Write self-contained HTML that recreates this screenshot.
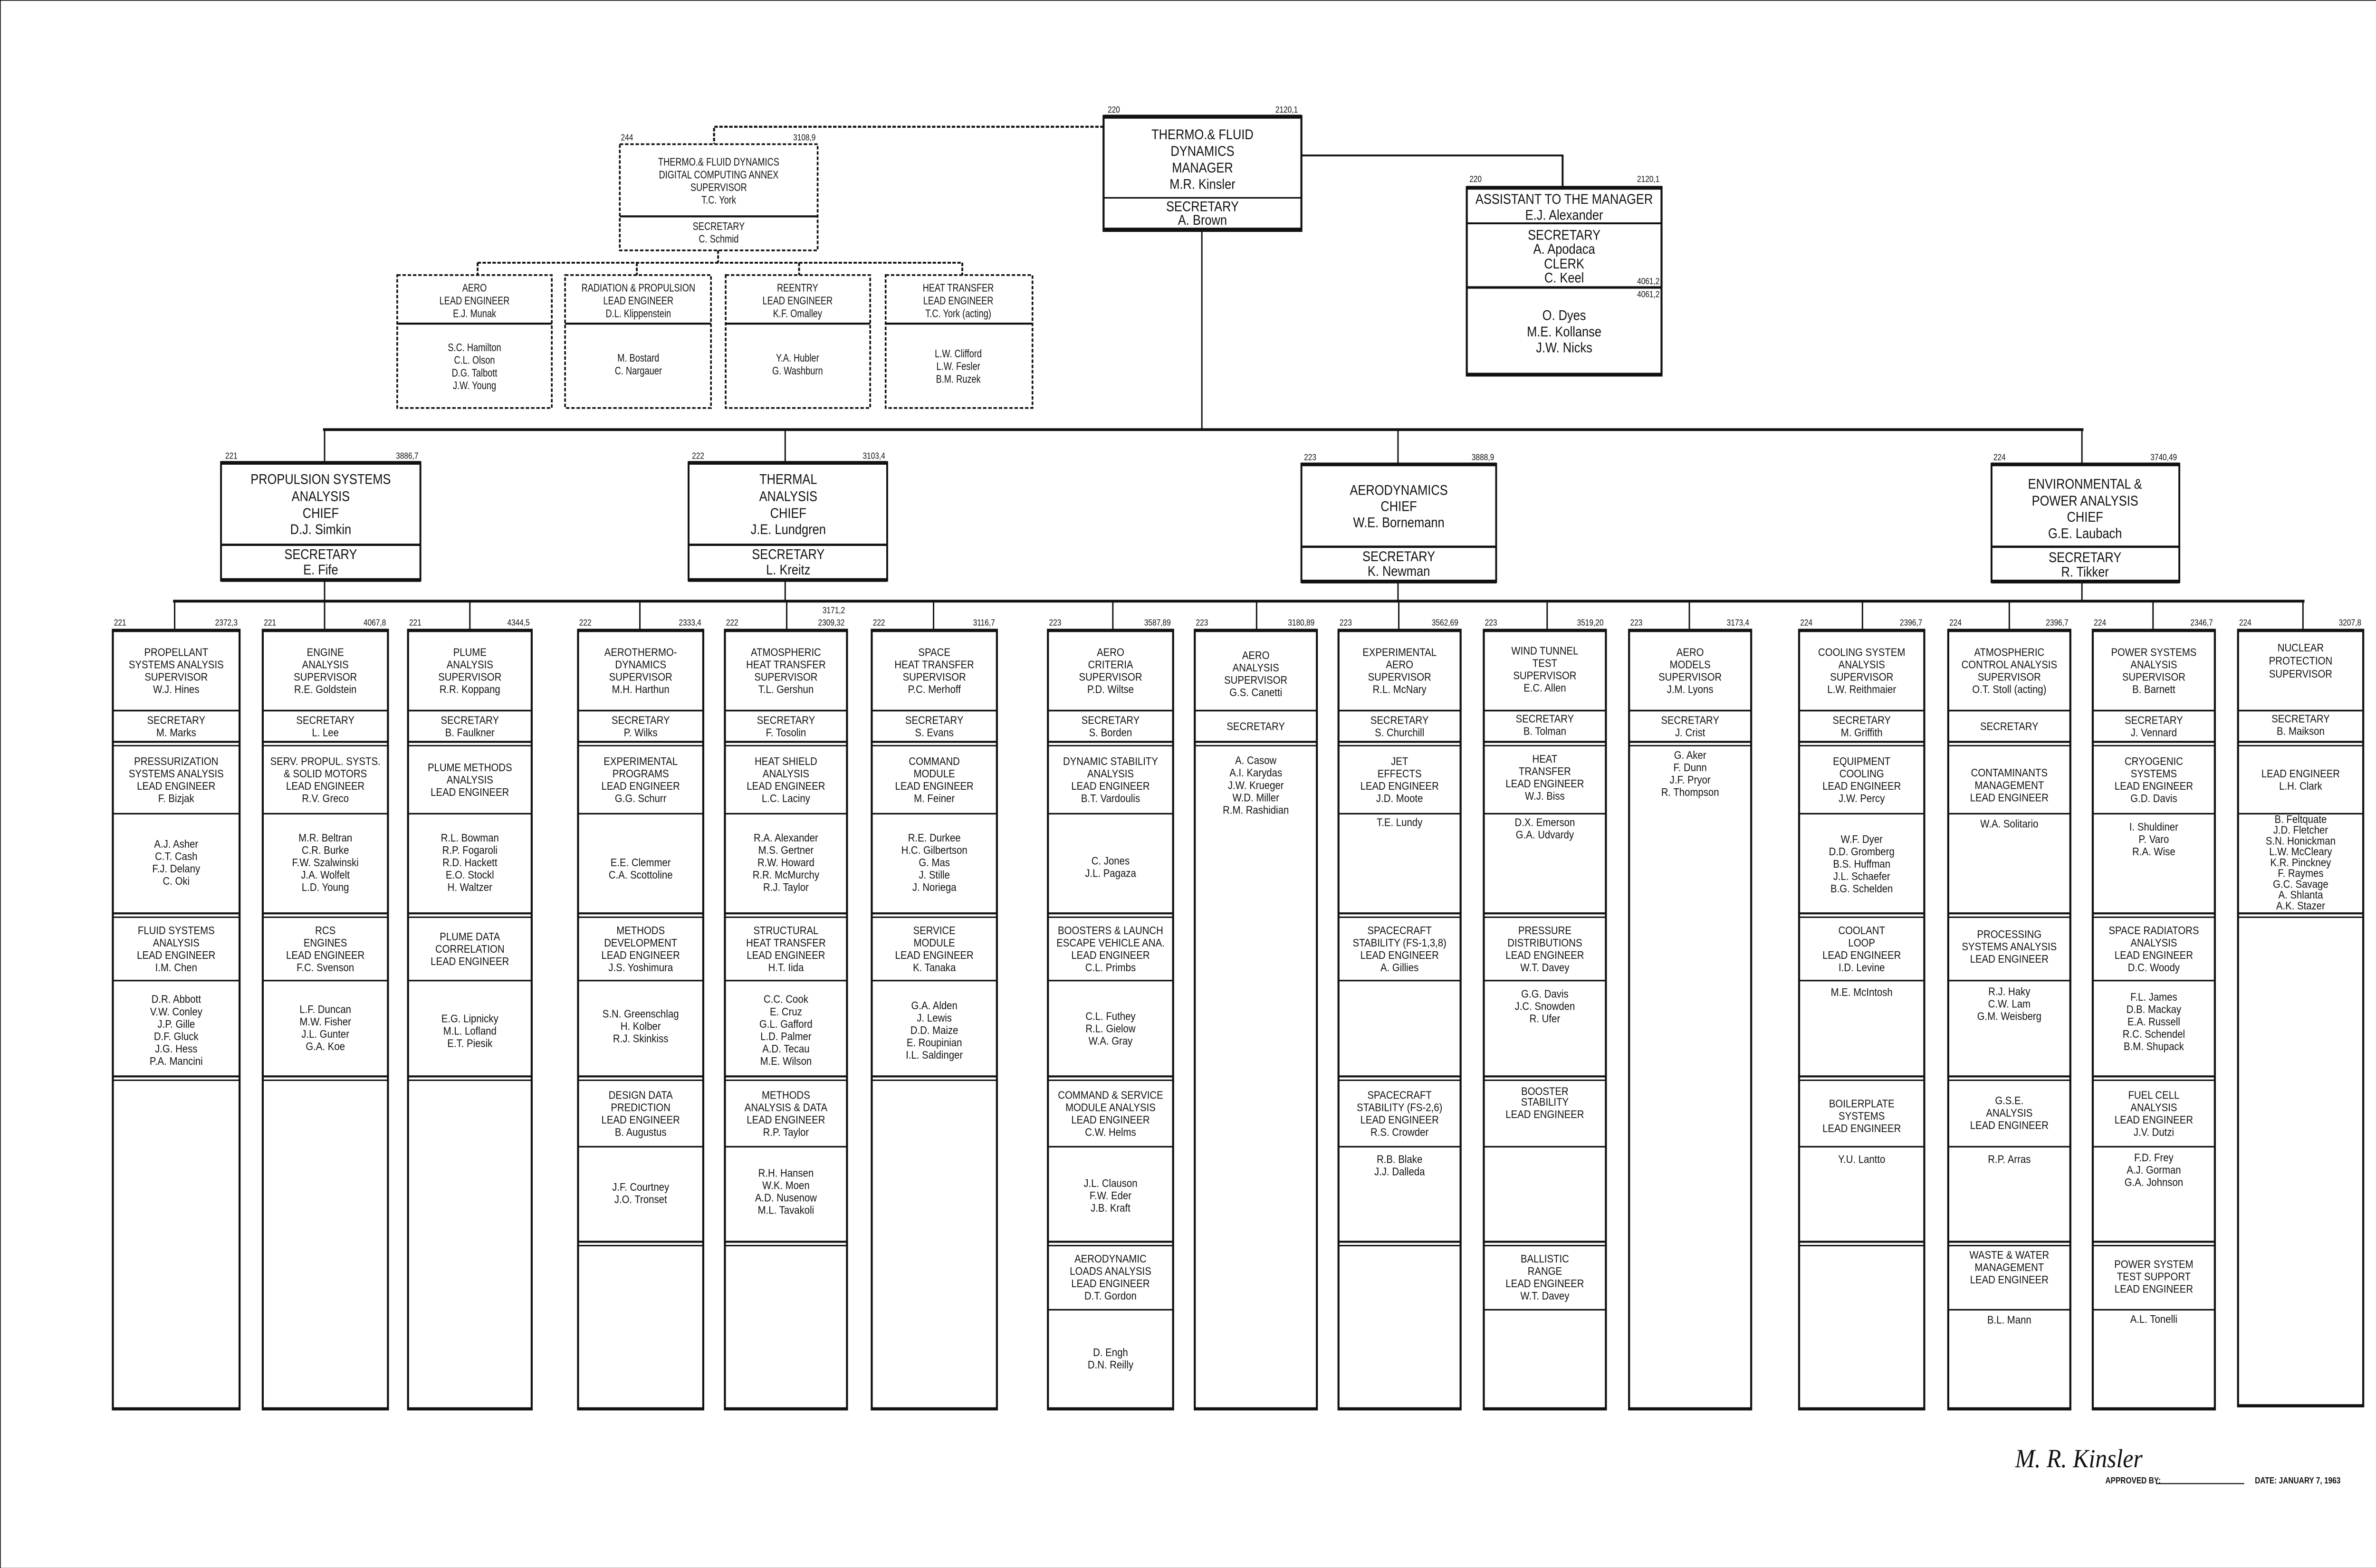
<!DOCTYPE html>
<html><head><meta charset="utf-8">
<style>
html,body{margin:0;padding:0;background:#fff;}
svg{display:block;}
text{font-family:"Liberation Sans",sans-serif;fill:#111;dominant-baseline:central;text-anchor:middle;transform-box:fill-box;transform-origin:center;}
.t{font-size:7.2px;transform:scaleX(.87);}
.s{font-size:7px;transform:scaleX(.8);}
.b{font-size:9.2px;transform:scaleX(.85);}
.n{font-size:5.6px;transform:scaleX(.85);}
.l{text-anchor:start;}
.r{text-anchor:end;}
line,rect,path{stroke:#111;fill:none;}
</style></head><body>
<svg width="5100" height="3300" viewBox="0 0 1568 1014.6" preserveAspectRatio="none" xmlns="http://www.w3.org/2000/svg">
<rect x="0" y="0" width="1568" height="1015" fill="#fff" stroke="none"/>

<!-- ===== TOP: Manager ===== -->
<rect x="714" y="75" width="128" height="74.4" stroke-width="1.3"/>
<line x1="714" y1="75.5" x2="842" y2="75.5" stroke-width="2.6"/>
<line x1="714" y1="148.5" x2="842" y2="148.5" stroke-width="2.4"/>
<line x1="714" y1="128" x2="842" y2="128" stroke-width="1"/>
<text class="n l" x="716" y="71">220</text><text class="n r" x="841" y="71">2120,1</text>
<text class="b" x="778" y="87">THERMO.&amp; FLUID</text>
<text class="b" x="778" y="97.7">DYNAMICS</text>
<text class="b" x="778" y="108.4">MANAGER</text>
<text class="b" x="778" y="119">M.R. Kinsler</text>
<text class="b" x="778" y="133.5">SECRETARY</text>
<text class="b" x="778" y="142.3">A. Brown</text>

<!-- manager to annex dashed -->
<path d="M714 82 H462 V93" stroke-width="1.3" stroke-dasharray="2.2,1"/>
<!-- annex -->
<rect x="401" y="93.3" width="128" height="68.7" stroke-width="1.1" stroke-dasharray="2.2,1.2"/>
<line x1="401" y1="140" x2="529" y2="140" stroke-width="1.3"/>
<text class="n l" x="401" y="89">244</text><text class="n r" x="529" y="89">3108,9</text>
<text class="s" x="465" y="105">THERMO.&amp; FLUID DYNAMICS</text>
<text class="s" x="465" y="113.2">DIGITAL COMPUTING ANNEX</text>
<text class="s" x="465" y="121.4">SUPERVISOR</text>
<text class="s" x="465" y="129.6">T.C. York</text>
<text class="s" x="465" y="146.6">SECRETARY</text>
<text class="s" x="465" y="154.8">C. Schmid</text>
<path d="M464.6 162 V170 M309 170 H622.6 M309 170 V178 M412 170 V178 M517 170 V178 M622.6 170 V178" stroke-width="1.2" stroke-dasharray="2.2,1"/>
<!-- annex subboxes -->
<g stroke-dasharray="2.2,1.2" stroke-width="1.1">
<rect x="257" y="178" width="100" height="86"/>
<rect x="365.6" y="178" width="94.4" height="86"/>
<rect x="469.5" y="178" width="93.5" height="86"/>
<rect x="573" y="178" width="95" height="86"/>
</g>
<g stroke-width="1.3">
<line x1="257" y1="209.4" x2="357" y2="209.4"/>
<line x1="365.6" y1="209.4" x2="460" y2="209.4"/>
<line x1="469.5" y1="209.4" x2="563" y2="209.4"/>
<line x1="573" y1="209.4" x2="668" y2="209.4"/>
</g>
<text class="s" x="307" y="186.4">AERO</text><text class="s" x="307" y="194.7">LEAD ENGINEER</text><text class="s" x="307" y="203">E.J. Munak</text>
<text class="s" x="307" y="225">S.C. Hamilton</text><text class="s" x="307" y="233.2">C.L. Olson</text><text class="s" x="307" y="241.4">D.G. Talbott</text><text class="s" x="307" y="249.6">J.W. Young</text>
<text class="s" x="413" y="186.4">RADIATION &amp; PROPULSION</text><text class="s" x="413" y="194.7">LEAD ENGINEER</text><text class="s" x="413" y="203">D.L. Klippenstein</text>
<text class="s" x="413" y="231.7">M. Bostard</text><text class="s" x="413" y="240">C. Nargauer</text>
<text class="s" x="516" y="186.4">REENTRY</text><text class="s" x="516" y="194.7">LEAD ENGINEER</text><text class="s" x="516" y="203">K.F. Omalley</text>
<text class="s" x="516" y="231.7">Y.A. Hubler</text><text class="s" x="516" y="240">G. Washburn</text>
<text class="s" x="620" y="186.4">HEAT TRANSFER</text><text class="s" x="620" y="194.7">LEAD ENGINEER</text><text class="s" x="620" y="203">T.C. York (acting)</text>
<text class="s" x="620" y="229">L.W. Clifford</text><text class="s" x="620" y="237.2">L.W. Fesler</text><text class="s" x="620" y="245.4">B.M. Ruzek</text>

<!-- assistant -->
<path d="M842 100.6 H1011 V121" stroke-width="1.2"/>
<rect x="949" y="121" width="126" height="122" stroke-width="1.3"/>
<line x1="949" y1="121.5" x2="1075" y2="121.5" stroke-width="2.4"/>
<line x1="949" y1="242.3" x2="1075" y2="242.3" stroke-width="2.2"/>
<line x1="949" y1="144.5" x2="1075" y2="144.5" stroke-width="1.2"/>
<line x1="949" y1="186" x2="1075" y2="186" stroke-width="1.6"/>
<text class="n l" x="950" y="116">220</text><text class="n r" x="1075" y="116">2120,1</text>
<text class="b" x="1012" y="128.7">ASSISTANT TO THE MANAGER</text>
<text class="b" x="1012" y="139">E.J. Alexander</text>
<text class="b" x="1012" y="152">SECRETARY</text>
<text class="b" x="1012" y="161">A. Apodaca</text>
<text class="b" x="1012" y="170.6">CLERK</text>
<text class="b" x="1012" y="179.6">C. Keel</text>
<text class="n r" x="1075" y="182">4061,2</text>
<text class="n r" x="1075" y="190.5">4061,2</text>
<text class="b" x="1012" y="204">O. Dyes</text>
<text class="b" x="1012" y="214.5">M.E. Kollanse</text>
<text class="b" x="1012" y="224.8">J.W. Nicks</text>

<!-- manager down to chiefs bus -->
<line x1="777.6" y1="149" x2="777.6" y2="278" stroke-width="0.9"/>
<line x1="209" y1="278" x2="1348" y2="278" stroke-width="1.8"/>
<g stroke-width="0.9">
<line x1="210" y1="278" x2="210" y2="299"/>
<line x1="508" y1="278" x2="508" y2="299"/>
<line x1="904.5" y1="278" x2="904.5" y2="300"/>
<line x1="1347" y1="278" x2="1347" y2="300"/>
<line x1="210" y1="375" x2="210" y2="389"/>
<line x1="508" y1="375" x2="508" y2="389"/>
<line x1="904.5" y1="376.5" x2="904.5" y2="389"/>
<line x1="1347" y1="376.5" x2="1347" y2="389"/>
</g>

<!-- chiefs -->
<g stroke-width="1.2">
<rect x="143" y="299" width="129" height="76.7"/>
<rect x="445.5" y="299" width="128.5" height="76.7"/>
<rect x="842" y="300" width="126" height="76.7"/>
<rect x="1288.5" y="300" width="121.5" height="76.7"/>
</g>
<g stroke-width="2.4">
<line x1="143" y1="299.5" x2="272" y2="299.5"/><line x1="143" y1="375.3" x2="272" y2="375.3"/>
<line x1="445.5" y1="299.5" x2="574" y2="299.5"/><line x1="445.5" y1="375.3" x2="574" y2="375.3"/>
<line x1="842" y1="300.5" x2="968" y2="300.5"/><line x1="842" y1="376.3" x2="968" y2="376.3"/>
<line x1="1288.5" y1="300.5" x2="1410" y2="300.5"/><line x1="1288.5" y1="376.3" x2="1410" y2="376.3"/>
</g>
<g stroke-width="1.5">
<line x1="143" y1="352.5" x2="272" y2="352.5"/>
<line x1="445.5" y1="352.5" x2="574" y2="352.5"/>
<line x1="842" y1="353.8" x2="968" y2="353.8"/>
<line x1="1288.5" y1="353.8" x2="1410" y2="353.8"/>
</g>
<text class="n l" x="145" y="295">221</text><text class="n r" x="272" y="295">3886,7</text>
<text class="n l" x="447" y="295">222</text><text class="n r" x="574" y="295">3103,4</text>
<text class="n l" x="843" y="296">223</text><text class="n r" x="968" y="296">3888,9</text>
<text class="n l" x="1289" y="296">224</text><text class="n r" x="1410" y="296">3740,49</text>
<text class="b" x="207.5" y="310">PROPULSION SYSTEMS</text><text class="b" x="207.5" y="321">ANALYSIS</text><text class="b" x="207.5" y="332">CHIEF</text><text class="b" x="207.5" y="342.5">D.J. Simkin</text>
<text class="b" x="207.5" y="358.5">SECRETARY</text><text class="b" x="207.5" y="368.5">E. Fife</text>
<text class="b" x="510" y="310">THERMAL</text><text class="b" x="510" y="321">ANALYSIS</text><text class="b" x="510" y="332">CHIEF</text><text class="b" x="510" y="342.5">J.E. Lundgren</text>
<text class="b" x="510" y="358.5">SECRETARY</text><text class="b" x="510" y="368.5">L. Kreitz</text>
<text class="b" x="905" y="317">AERODYNAMICS</text><text class="b" x="905" y="327.5">CHIEF</text><text class="b" x="905" y="338">W.E. Bornemann</text>
<text class="b" x="905" y="360">SECRETARY</text><text class="b" x="905" y="369.5">K. Newman</text>
<text class="b" x="1349" y="313">ENVIRONMENTAL &amp;</text><text class="b" x="1349" y="324">POWER ANALYSIS</text><text class="b" x="1349" y="334.5">CHIEF</text><text class="b" x="1349" y="345">G.E. Laubach</text>
<text class="b" x="1349" y="360.5">SECRETARY</text><text class="b" x="1349" y="370">R. Tikker</text>

<!-- lower bus -->
<line x1="112" y1="389" x2="1491" y2="389" stroke-width="1.8"/>
<g stroke-width="0.9">
<line x1="113" y1="389" x2="113" y2="407"/><line x1="210" y1="389" x2="210" y2="407"/><line x1="304" y1="389" x2="304" y2="407"/>
<line x1="414" y1="389" x2="414" y2="407"/><line x1="509" y1="389" x2="509" y2="407"/><line x1="604" y1="389" x2="604" y2="407"/>
<line x1="720" y1="389" x2="720" y2="407"/><line x1="813" y1="389" x2="813" y2="407"/><line x1="905" y1="389" x2="905" y2="407"/>
<line x1="1001" y1="389" x2="1001" y2="407"/><line x1="1093" y1="389" x2="1093" y2="407"/><line x1="1205" y1="389" x2="1205" y2="407"/>
<line x1="1300" y1="389" x2="1300" y2="407"/><line x1="1393" y1="389" x2="1393" y2="407"/><line x1="1490" y1="389" x2="1490" y2="407"/>
</g>

<!-- ===== COLUMNS ===== -->
<!-- Col1 -->
<g transform="translate(73,0)">
<rect x="0" y="407.5" width="82" height="504.5" stroke-width="1.3"/><line x1="0" y1="408" x2="82" y2="408" stroke-width="2"/><line x1="0" y1="911.5" x2="82" y2="911.5" stroke-width="1.8"/>
<line x1="0" y1="459.8" x2="82" y2="459.8" stroke-width="1.1"/>
<line x1="0" y1="480" x2="82" y2="480" stroke-width="1.3"/><line x1="0" y1="482.5" x2="82" y2="482.5" stroke-width=".9"/>
<line x1="0" y1="526.5" x2="82" y2="526.5" stroke-width="1"/>
<line x1="0" y1="591" x2="82" y2="591" stroke-width="1.3"/><line x1="0" y1="593.5" x2="82" y2="593.5" stroke-width=".9"/>
<line x1="0" y1="634.5" x2="82" y2="634.5" stroke-width="1"/>
<line x1="0" y1="696.5" x2="82" y2="696.5" stroke-width="1.3"/><line x1="0" y1="699" x2="82" y2="699" stroke-width=".9"/>
<text class="n l" x="0" y="403">221</text><text class="n r" x="82" y="403">2372,3</text>
<text class="t" x="41" y="422">PROPELLANT</text><text class="t" x="41" y="430">SYSTEMS ANALYSIS</text><text class="t" x="41" y="438">SUPERVISOR</text><text class="t" x="41" y="446">W.J. Hines</text>
<text class="t" x="41" y="466">SECRETARY</text><text class="t" x="41" y="474">M. Marks</text>
<text class="t" x="41" y="492.5">PRESSURIZATION</text><text class="t" x="41" y="500.5">SYSTEMS ANALYSIS</text><text class="t" x="41" y="508.5">LEAD ENGINEER</text><text class="t" x="41" y="516.5">F. Bizjak</text>
<text class="t" x="41" y="546">A.J. Asher</text><text class="t" x="41" y="554">C.T. Cash</text><text class="t" x="41" y="562">F.J. Delany</text><text class="t" x="41" y="570">C. Oki</text>
<text class="t" x="41" y="602">FLUID SYSTEMS</text><text class="t" x="41" y="610">ANALYSIS</text><text class="t" x="41" y="618">LEAD ENGINEER</text><text class="t" x="41" y="626">I.M. Chen</text>
<text class="t" x="41" y="646.5">D.R. Abbott</text><text class="t" x="41" y="654.5">V.W. Conley</text><text class="t" x="41" y="662.5">J.P. Gille</text><text class="t" x="41" y="670.5">D.F. Gluck</text><text class="t" x="41" y="678.5">J.G. Hess</text><text class="t" x="41" y="686.5">P.A. Mancini</text>
</g>

<!-- Col2 -->
<g transform="translate(170,0)">
<rect x="0" y="407.5" width="81" height="504.5" stroke-width="1.3"/><line x1="0" y1="408" x2="81" y2="408" stroke-width="2"/><line x1="0" y1="911.5" x2="81" y2="911.5" stroke-width="1.8"/>
<line x1="0" y1="459.8" x2="81" y2="459.8" stroke-width="1.1"/>
<line x1="0" y1="480" x2="81" y2="480" stroke-width="1.3"/><line x1="0" y1="482.5" x2="81" y2="482.5" stroke-width=".9"/>
<line x1="0" y1="526.5" x2="81" y2="526.5" stroke-width="1"/>
<line x1="0" y1="591" x2="81" y2="591" stroke-width="1.3"/><line x1="0" y1="593.5" x2="81" y2="593.5" stroke-width=".9"/>
<line x1="0" y1="634.5" x2="81" y2="634.5" stroke-width="1"/>
<line x1="0" y1="696.5" x2="81" y2="696.5" stroke-width="1.3"/><line x1="0" y1="699" x2="81" y2="699" stroke-width=".9"/>
<text class="n l" x="0" y="403">221</text><text class="n r" x="81" y="403">4067,8</text>
<text class="t" x="40.5" y="422">ENGINE</text><text class="t" x="40.5" y="430">ANALYSIS</text><text class="t" x="40.5" y="438">SUPERVISOR</text><text class="t" x="40.5" y="446">R.E. Goldstein</text>
<text class="t" x="40.5" y="466">SECRETARY</text><text class="t" x="40.5" y="474">L. Lee</text>
<text class="t" x="40.5" y="492.5">SERV. PROPUL. SYSTS.</text><text class="t" x="40.5" y="500.5">&amp; SOLID MOTORS</text><text class="t" x="40.5" y="508.5">LEAD ENGINEER</text><text class="t" x="40.5" y="516.5">R.V. Greco</text>
<text class="t" x="40.5" y="542">M.R. Beltran</text><text class="t" x="40.5" y="550">C.R. Burke</text><text class="t" x="40.5" y="558">F.W. Szalwinski</text><text class="t" x="40.5" y="566">J.A. Wolfelt</text><text class="t" x="40.5" y="574">L.D. Young</text>
<text class="t" x="40.5" y="602">RCS</text><text class="t" x="40.5" y="610">ENGINES</text><text class="t" x="40.5" y="618">LEAD ENGINEER</text><text class="t" x="40.5" y="626">F.C. Svenson</text>
<text class="t" x="40.5" y="653">L.F. Duncan</text><text class="t" x="40.5" y="661">M.W. Fisher</text><text class="t" x="40.5" y="669">J.L. Gunter</text><text class="t" x="40.5" y="677">G.A. Koe</text>
</g>

<!-- Col3 -->
<g transform="translate(264,0)">
<rect x="0" y="407.5" width="80" height="504.5" stroke-width="1.3"/><line x1="0" y1="408" x2="80" y2="408" stroke-width="2"/><line x1="0" y1="911.5" x2="80" y2="911.5" stroke-width="1.8"/>
<line x1="0" y1="459.8" x2="80" y2="459.8" stroke-width="1.1"/>
<line x1="0" y1="480" x2="80" y2="480" stroke-width="1.3"/><line x1="0" y1="482.5" x2="80" y2="482.5" stroke-width=".9"/>
<line x1="0" y1="526.5" x2="80" y2="526.5" stroke-width="1"/>
<line x1="0" y1="591" x2="80" y2="591" stroke-width="1.3"/><line x1="0" y1="593.5" x2="80" y2="593.5" stroke-width=".9"/>
<line x1="0" y1="634.5" x2="80" y2="634.5" stroke-width="1"/>
<line x1="0" y1="696.5" x2="80" y2="696.5" stroke-width="1.3"/><line x1="0" y1="699" x2="80" y2="699" stroke-width=".9"/>
<text class="n l" x="0" y="403">221</text><text class="n r" x="80" y="403">4344,5</text>
<text class="t" x="40" y="422">PLUME</text><text class="t" x="40" y="430">ANALYSIS</text><text class="t" x="40" y="438">SUPERVISOR</text><text class="t" x="40" y="446">R.R. Koppang</text>
<text class="t" x="40" y="466">SECRETARY</text><text class="t" x="40" y="474">B. Faulkner</text>
<text class="t" x="40" y="496.5">PLUME METHODS</text><text class="t" x="40" y="504.5">ANALYSIS</text><text class="t" x="40" y="512.5">LEAD ENGINEER</text>
<text class="t" x="40" y="542">R.L. Bowman</text><text class="t" x="40" y="550">R.P. Fogaroli</text><text class="t" x="40" y="558">R.D. Hackett</text><text class="t" x="40" y="566">E.O. Stockl</text><text class="t" x="40" y="574">H. Waltzer</text>
<text class="t" x="40" y="606">PLUME DATA</text><text class="t" x="40" y="614">CORRELATION</text><text class="t" x="40" y="622">LEAD ENGINEER</text>
<text class="t" x="40" y="659">E.G. Lipnicky</text><text class="t" x="40" y="667">M.L. Lofland</text><text class="t" x="40" y="675">E.T. Piesik</text>
</g>

<!-- Col4 -->
<g transform="translate(374,0)">
<rect x="0" y="407.5" width="81" height="504.5" stroke-width="1.3"/><line x1="0" y1="408" x2="81" y2="408" stroke-width="2"/><line x1="0" y1="911.5" x2="81" y2="911.5" stroke-width="1.8"/>
<line x1="0" y1="459.8" x2="81" y2="459.8" stroke-width="1.1"/>
<line x1="0" y1="480" x2="81" y2="480" stroke-width="1.3"/><line x1="0" y1="482.5" x2="81" y2="482.5" stroke-width=".9"/>
<line x1="0" y1="526.5" x2="81" y2="526.5" stroke-width="1"/>
<line x1="0" y1="591" x2="81" y2="591" stroke-width="1.3"/><line x1="0" y1="593.5" x2="81" y2="593.5" stroke-width=".9"/>
<line x1="0" y1="634.5" x2="81" y2="634.5" stroke-width="1"/>
<line x1="0" y1="696.5" x2="81" y2="696.5" stroke-width="1.3"/><line x1="0" y1="699" x2="81" y2="699" stroke-width=".9"/>
<line x1="0" y1="742" x2="81" y2="742" stroke-width="1"/>
<line x1="0" y1="803.5" x2="81" y2="803.5" stroke-width="1.3"/><line x1="0" y1="806" x2="81" y2="806" stroke-width=".9"/>
<text class="n l" x="0" y="403">222</text><text class="n r" x="81" y="403">2333,4</text>
<text class="t" x="40.5" y="422">AEROTHERMO-</text><text class="t" x="40.5" y="430">DYNAMICS</text><text class="t" x="40.5" y="438">SUPERVISOR</text><text class="t" x="40.5" y="446">M.H. Harthun</text>
<text class="t" x="40.5" y="466">SECRETARY</text><text class="t" x="40.5" y="474">P. Wilks</text>
<text class="t" x="40.5" y="492.5">EXPERIMENTAL</text><text class="t" x="40.5" y="500.5">PROGRAMS</text><text class="t" x="40.5" y="508.5">LEAD ENGINEER</text><text class="t" x="40.5" y="516.5">G.G. Schurr</text>
<text class="t" x="40.5" y="558">E.E. Clemmer</text><text class="t" x="40.5" y="566">C.A. Scottoline</text>
<text class="t" x="40.5" y="602">METHODS</text><text class="t" x="40.5" y="610">DEVELOPMENT</text><text class="t" x="40.5" y="618">LEAD ENGINEER</text><text class="t" x="40.5" y="626">J.S. Yoshimura</text>
<text class="t" x="40.5" y="656">S.N. Greenschlag</text><text class="t" x="40.5" y="664">H. Kolber</text><text class="t" x="40.5" y="672">R.J. Skinkiss</text>
<text class="t" x="40.5" y="708.5">DESIGN DATA</text><text class="t" x="40.5" y="716.5">PREDICTION</text><text class="t" x="40.5" y="724.5">LEAD ENGINEER</text><text class="t" x="40.5" y="732.5">B. Augustus</text>
<text class="t" x="40.5" y="768">J.F. Courtney</text><text class="t" x="40.5" y="776">J.O. Tronset</text>
</g>

<!-- Col5 -->
<g transform="translate(469,0)">
<rect x="0" y="407.5" width="79" height="504.5" stroke-width="1.3"/><line x1="0" y1="408" x2="79" y2="408" stroke-width="2"/><line x1="0" y1="911.5" x2="79" y2="911.5" stroke-width="1.8"/>
<line x1="0" y1="459.8" x2="79" y2="459.8" stroke-width="1.1"/>
<line x1="0" y1="480" x2="79" y2="480" stroke-width="1.3"/><line x1="0" y1="482.5" x2="79" y2="482.5" stroke-width=".9"/>
<line x1="0" y1="526.5" x2="79" y2="526.5" stroke-width="1"/>
<line x1="0" y1="591" x2="79" y2="591" stroke-width="1.3"/><line x1="0" y1="593.5" x2="79" y2="593.5" stroke-width=".9"/>
<line x1="0" y1="634.5" x2="79" y2="634.5" stroke-width="1"/>
<line x1="0" y1="696.5" x2="79" y2="696.5" stroke-width="1.3"/><line x1="0" y1="699" x2="79" y2="699" stroke-width=".9"/>
<line x1="0" y1="742" x2="79" y2="742" stroke-width="1"/>
<line x1="0" y1="803.5" x2="79" y2="803.5" stroke-width="1.3"/><line x1="0" y1="806" x2="79" y2="806" stroke-width=".9"/>
<text class="n l" x="0" y="403">222</text><text class="n r" x="79" y="395">3171,2</text><text class="n r" x="79" y="403">2309,32</text>
<text class="t" x="39.5" y="422">ATMOSPHERIC</text><text class="t" x="39.5" y="430">HEAT TRANSFER</text><text class="t" x="39.5" y="438">SUPERVISOR</text><text class="t" x="39.5" y="446">T.L. Gershun</text>
<text class="t" x="39.5" y="466">SECRETARY</text><text class="t" x="39.5" y="474">F. Tosolin</text>
<text class="t" x="39.5" y="492.5">HEAT SHIELD</text><text class="t" x="39.5" y="500.5">ANALYSIS</text><text class="t" x="39.5" y="508.5">LEAD ENGINEER</text><text class="t" x="39.5" y="516.5">L.C. Laciny</text>
<text class="t" x="39.5" y="542">R.A. Alexander</text><text class="t" x="39.5" y="550">M.S. Gertner</text><text class="t" x="39.5" y="558">R.W. Howard</text><text class="t" x="39.5" y="566">R.R. McMurchy</text><text class="t" x="39.5" y="574">R.J. Taylor</text>
<text class="t" x="39.5" y="602">STRUCTURAL</text><text class="t" x="39.5" y="610">HEAT TRANSFER</text><text class="t" x="39.5" y="618">LEAD ENGINEER</text><text class="t" x="39.5" y="626">H.T. Iida</text>
<text class="t" x="39.5" y="646.5">C.C. Cook</text><text class="t" x="39.5" y="654.5">E. Cruz</text><text class="t" x="39.5" y="662.5">G.L. Gafford</text><text class="t" x="39.5" y="670.5">L.D. Palmer</text><text class="t" x="39.5" y="678.5">A.D. Tecau</text><text class="t" x="39.5" y="686.5">M.E. Wilson</text>
<text class="t" x="39.5" y="708.5">METHODS</text><text class="t" x="39.5" y="716.5">ANALYSIS &amp; DATA</text><text class="t" x="39.5" y="724.5">LEAD ENGINEER</text><text class="t" x="39.5" y="732.5">R.P. Taylor</text>
<text class="t" x="39.5" y="759">R.H. Hansen</text><text class="t" x="39.5" y="767">W.K. Moen</text><text class="t" x="39.5" y="775">A.D. Nusenow</text><text class="t" x="39.5" y="783">M.L. Tavakoli</text>
</g>

<!-- Col6 -->
<g transform="translate(564,0)">
<rect x="0" y="407.5" width="81" height="504.5" stroke-width="1.3"/><line x1="0" y1="408" x2="81" y2="408" stroke-width="2"/><line x1="0" y1="911.5" x2="81" y2="911.5" stroke-width="1.8"/>
<line x1="0" y1="459.8" x2="81" y2="459.8" stroke-width="1.1"/>
<line x1="0" y1="480" x2="81" y2="480" stroke-width="1.3"/><line x1="0" y1="482.5" x2="81" y2="482.5" stroke-width=".9"/>
<line x1="0" y1="526.5" x2="81" y2="526.5" stroke-width="1"/>
<line x1="0" y1="591" x2="81" y2="591" stroke-width="1.3"/><line x1="0" y1="593.5" x2="81" y2="593.5" stroke-width=".9"/>
<line x1="0" y1="634.5" x2="81" y2="634.5" stroke-width="1"/>
<line x1="0" y1="696.5" x2="81" y2="696.5" stroke-width="1.3"/><line x1="0" y1="699" x2="81" y2="699" stroke-width=".9"/>
<text class="n l" x="0" y="403">222</text><text class="n r" x="81" y="403">3116,7</text>
<text class="t" x="40.5" y="422">SPACE</text><text class="t" x="40.5" y="430">HEAT TRANSFER</text><text class="t" x="40.5" y="438">SUPERVISOR</text><text class="t" x="40.5" y="446">P.C. Merhoff</text>
<text class="t" x="40.5" y="466">SECRETARY</text><text class="t" x="40.5" y="474">S. Evans</text>
<text class="t" x="40.5" y="492.5">COMMAND</text><text class="t" x="40.5" y="500.5">MODULE</text><text class="t" x="40.5" y="508.5">LEAD ENGINEER</text><text class="t" x="40.5" y="516.5">M. Feiner</text>
<text class="t" x="40.5" y="542">R.E. Durkee</text><text class="t" x="40.5" y="550">H.C. Gilbertson</text><text class="t" x="40.5" y="558">G. Mas</text><text class="t" x="40.5" y="566">J. Stille</text><text class="t" x="40.5" y="574">J. Noriega</text>
<text class="t" x="40.5" y="602">SERVICE</text><text class="t" x="40.5" y="610">MODULE</text><text class="t" x="40.5" y="618">LEAD ENGINEER</text><text class="t" x="40.5" y="626">K. Tanaka</text>
<text class="t" x="40.5" y="650.5">G.A. Alden</text><text class="t" x="40.5" y="658.5">J. Lewis</text><text class="t" x="40.5" y="666.5">D.D. Maize</text><text class="t" x="40.5" y="674.5">E. Roupinian</text><text class="t" x="40.5" y="682.5">I.L. Saldinger</text>
</g>

<!-- Col7 -->
<g transform="translate(678,0)">
<rect x="0" y="407.5" width="81" height="504.5" stroke-width="1.3"/><line x1="0" y1="408" x2="81" y2="408" stroke-width="2"/><line x1="0" y1="911.5" x2="81" y2="911.5" stroke-width="1.8"/>
<line x1="0" y1="459.8" x2="81" y2="459.8" stroke-width="1.1"/>
<line x1="0" y1="480" x2="81" y2="480" stroke-width="1.3"/><line x1="0" y1="482.5" x2="81" y2="482.5" stroke-width=".9"/>
<line x1="0" y1="526.5" x2="81" y2="526.5" stroke-width="1"/>
<line x1="0" y1="591" x2="81" y2="591" stroke-width="1.3"/><line x1="0" y1="593.5" x2="81" y2="593.5" stroke-width=".9"/>
<line x1="0" y1="634.5" x2="81" y2="634.5" stroke-width="1"/>
<line x1="0" y1="696.5" x2="81" y2="696.5" stroke-width="1.3"/><line x1="0" y1="699" x2="81" y2="699" stroke-width=".9"/>
<line x1="0" y1="742" x2="81" y2="742" stroke-width="1"/>
<line x1="0" y1="803.5" x2="81" y2="803.5" stroke-width="1.3"/><line x1="0" y1="806" x2="81" y2="806" stroke-width=".9"/>
<line x1="0" y1="847.5" x2="81" y2="847.5" stroke-width="1"/>
<text class="n l" x="0" y="403">223</text><text class="n r" x="81" y="403">3587,89</text>
<text class="t" x="40.5" y="422">AERO</text><text class="t" x="40.5" y="430">CRITERIA</text><text class="t" x="40.5" y="438">SUPERVISOR</text><text class="t" x="40.5" y="446">P.D. Wiltse</text>
<text class="t" x="40.5" y="466">SECRETARY</text><text class="t" x="40.5" y="474">S. Borden</text>
<text class="t" x="40.5" y="492.5">DYNAMIC STABILITY</text><text class="t" x="40.5" y="500.5">ANALYSIS</text><text class="t" x="40.5" y="508.5">LEAD ENGINEER</text><text class="t" x="40.5" y="516.5">B.T. Vardoulis</text>
<text class="t" x="40.5" y="557">C. Jones</text><text class="t" x="40.5" y="565">J.L. Pagaza</text>
<text class="t" x="40.5" y="602">BOOSTERS &amp; LAUNCH</text><text class="t" x="40.5" y="610">ESCAPE VEHICLE ANA.</text><text class="t" x="40.5" y="618">LEAD ENGINEER</text><text class="t" x="40.5" y="626">C.L. Primbs</text>
<text class="t" x="40.5" y="657.5">C.L. Futhey</text><text class="t" x="40.5" y="665.5">R.L. Gielow</text><text class="t" x="40.5" y="673.5">W.A. Gray</text>
<text class="t" x="40.5" y="708.5">COMMAND &amp; SERVICE</text><text class="t" x="40.5" y="716.5">MODULE ANALYSIS</text><text class="t" x="40.5" y="724.5">LEAD ENGINEER</text><text class="t" x="40.5" y="732.5">C.W. Helms</text>
<text class="t" x="40.5" y="765.5">J.L. Clauson</text><text class="t" x="40.5" y="773.5">F.W. Eder</text><text class="t" x="40.5" y="781.5">J.B. Kraft</text>
<text class="t" x="40.5" y="814.5">AERODYNAMIC</text><text class="t" x="40.5" y="822.5">LOADS ANALYSIS</text><text class="t" x="40.5" y="830.5">LEAD ENGINEER</text><text class="t" x="40.5" y="838.5">D.T. Gordon</text>
<text class="t" x="40.5" y="875">D. Engh</text><text class="t" x="40.5" y="883">D.N. Reilly</text>
</g>

<!-- Col8 -->
<g transform="translate(773,0)">
<rect x="0" y="407.5" width="79" height="504.5" stroke-width="1.3"/><line x1="0" y1="408" x2="79" y2="408" stroke-width="2"/><line x1="0" y1="911.5" x2="79" y2="911.5" stroke-width="1.8"/>
<line x1="0" y1="459.8" x2="79" y2="459.8" stroke-width="1.1"/>
<line x1="0" y1="480" x2="79" y2="480" stroke-width="1.3"/><line x1="0" y1="482.5" x2="79" y2="482.5" stroke-width=".9"/>
<text class="n l" x="0" y="403">223</text><text class="n r" x="79" y="403">3180,89</text>
<text class="t" x="39.5" y="424">AERO</text><text class="t" x="39.5" y="432">ANALYSIS</text><text class="t" x="39.5" y="440">SUPERVISOR</text><text class="t" x="39.5" y="448">G.S. Canetti</text>
<text class="t" x="39.5" y="470">SECRETARY</text>
<text class="t" x="39.5" y="492">A. Casow</text><text class="t" x="39.5" y="500">A.I. Karydas</text><text class="t" x="39.5" y="508">J.W. Krueger</text><text class="t" x="39.5" y="516">W.D. Miller</text><text class="t" x="39.5" y="524">R.M. Rashidian</text>
</g>

<!-- Col9 -->
<g transform="translate(866,0)">
<rect x="0" y="407.5" width="79" height="504.5" stroke-width="1.3"/><line x1="0" y1="408" x2="79" y2="408" stroke-width="2"/><line x1="0" y1="911.5" x2="79" y2="911.5" stroke-width="1.8"/>
<line x1="0" y1="459.8" x2="79" y2="459.8" stroke-width="1.1"/>
<line x1="0" y1="480" x2="79" y2="480" stroke-width="1.3"/><line x1="0" y1="482.5" x2="79" y2="482.5" stroke-width=".9"/>
<line x1="0" y1="526.5" x2="79" y2="526.5" stroke-width="1"/>
<line x1="0" y1="591" x2="79" y2="591" stroke-width="1.3"/><line x1="0" y1="593.5" x2="79" y2="593.5" stroke-width=".9"/>
<line x1="0" y1="634.5" x2="79" y2="634.5" stroke-width="1"/>
<line x1="0" y1="696.5" x2="79" y2="696.5" stroke-width="1.3"/><line x1="0" y1="699" x2="79" y2="699" stroke-width=".9"/>
<line x1="0" y1="742" x2="79" y2="742" stroke-width="1"/>
<line x1="0" y1="803.5" x2="79" y2="803.5" stroke-width="1.3"/><line x1="0" y1="806" x2="79" y2="806" stroke-width=".9"/>
<text class="n l" x="0" y="403">223</text><text class="n r" x="79" y="403">3562,69</text>
<text class="t" x="39.5" y="422">EXPERIMENTAL</text><text class="t" x="39.5" y="430">AERO</text><text class="t" x="39.5" y="438">SUPERVISOR</text><text class="t" x="39.5" y="446">R.L. McNary</text>
<text class="t" x="39.5" y="466">SECRETARY</text><text class="t" x="39.5" y="474">S. Churchill</text>
<text class="t" x="39.5" y="492.5">JET</text><text class="t" x="39.5" y="500.5">EFFECTS</text><text class="t" x="39.5" y="508.5">LEAD ENGINEER</text><text class="t" x="39.5" y="516.5">J.D. Moote</text>
<text class="t" x="39.5" y="532">T.E. Lundy</text>
<text class="t" x="39.5" y="602">SPACECRAFT</text><text class="t" x="39.5" y="610">STABILITY (FS-1,3,8)</text><text class="t" x="39.5" y="618">LEAD ENGINEER</text><text class="t" x="39.5" y="626">A. Gillies</text>
<text class="t" x="39.5" y="708.5">SPACECRAFT</text><text class="t" x="39.5" y="716.5">STABILITY (FS-2,6)</text><text class="t" x="39.5" y="724.5">LEAD ENGINEER</text><text class="t" x="39.5" y="732.5">R.S. Crowder</text>
<text class="t" x="39.5" y="750">R.B. Blake</text><text class="t" x="39.5" y="758">J.J. Dalleda</text>
</g>

<!-- Col10 -->
<g transform="translate(960,0)">
<rect x="0" y="407.5" width="79" height="504.5" stroke-width="1.3"/><line x1="0" y1="408" x2="79" y2="408" stroke-width="2"/><line x1="0" y1="911.5" x2="79" y2="911.5" stroke-width="1.8"/>
<line x1="0" y1="459.8" x2="79" y2="459.8" stroke-width="1.1"/>
<line x1="0" y1="480" x2="79" y2="480" stroke-width="1.3"/><line x1="0" y1="482.5" x2="79" y2="482.5" stroke-width=".9"/>
<line x1="0" y1="526.5" x2="79" y2="526.5" stroke-width="1"/>
<line x1="0" y1="591" x2="79" y2="591" stroke-width="1.3"/><line x1="0" y1="593.5" x2="79" y2="593.5" stroke-width=".9"/>
<line x1="0" y1="634.5" x2="79" y2="634.5" stroke-width="1"/>
<line x1="0" y1="696.5" x2="79" y2="696.5" stroke-width="1.3"/><line x1="0" y1="699" x2="79" y2="699" stroke-width=".9"/>
<line x1="0" y1="742" x2="79" y2="742" stroke-width="1"/>
<line x1="0" y1="803.5" x2="79" y2="803.5" stroke-width="1.3"/><line x1="0" y1="806" x2="79" y2="806" stroke-width=".9"/>
<line x1="0" y1="847.5" x2="79" y2="847.5" stroke-width="1"/>
<text class="n l" x="0" y="403">223</text><text class="n r" x="79" y="403">3519,20</text>
<text class="t" x="39.5" y="421">WIND TUNNEL</text><text class="t" x="39.5" y="429">TEST</text><text class="t" x="39.5" y="437">SUPERVISOR</text><text class="t" x="39.5" y="445">E.C. Allen</text>
<text class="t" x="39.5" y="465">SECRETARY</text><text class="t" x="39.5" y="473">B. Tolman</text>
<text class="t" x="39.5" y="491">HEAT</text><text class="t" x="39.5" y="499">TRANSFER</text><text class="t" x="39.5" y="507">LEAD ENGINEER</text><text class="t" x="39.5" y="515">W.J. Biss</text>
<text class="t" x="39.5" y="532">D.X. Emerson</text><text class="t" x="39.5" y="540">G.A. Udvardy</text>
<text class="t" x="39.5" y="602">PRESSURE</text><text class="t" x="39.5" y="610">DISTRIBUTIONS</text><text class="t" x="39.5" y="618">LEAD ENGINEER</text><text class="t" x="39.5" y="626">W.T. Davey</text>
<text class="t" x="39.5" y="643">G.G. Davis</text><text class="t" x="39.5" y="651">J.C. Snowden</text><text class="t" x="39.5" y="659">R. Ufer</text>
<text class="t" x="39.5" y="706">BOOSTER</text><text class="t" x="39.5" y="713">STABILITY</text><text class="t" x="39.5" y="721">LEAD ENGINEER</text>
<text class="t" x="39.5" y="814.5">BALLISTIC</text><text class="t" x="39.5" y="822.5">RANGE</text><text class="t" x="39.5" y="830.5">LEAD ENGINEER</text><text class="t" x="39.5" y="838.5">W.T. Davey</text>
</g>

<!-- Col11 -->
<g transform="translate(1054,0)">
<rect x="0" y="407.5" width="79" height="504.5" stroke-width="1.3"/><line x1="0" y1="408" x2="79" y2="408" stroke-width="2"/><line x1="0" y1="911.5" x2="79" y2="911.5" stroke-width="1.8"/>
<line x1="0" y1="459.8" x2="79" y2="459.8" stroke-width="1.1"/>
<line x1="0" y1="480" x2="79" y2="480" stroke-width="1.3"/><line x1="0" y1="482.5" x2="79" y2="482.5" stroke-width=".9"/>
<text class="n l" x="0" y="403">223</text><text class="n r" x="79" y="403">3173,4</text>
<text class="t" x="39.5" y="422">AERO</text><text class="t" x="39.5" y="430">MODELS</text><text class="t" x="39.5" y="438">SUPERVISOR</text><text class="t" x="39.5" y="446">J.M. Lyons</text>
<text class="t" x="39.5" y="466">SECRETARY</text><text class="t" x="39.5" y="474">J. Crist</text>
<text class="t" x="39.5" y="488.5">G. Aker</text><text class="t" x="39.5" y="496.5">F. Dunn</text><text class="t" x="39.5" y="504.5">J.F. Pryor</text><text class="t" x="39.5" y="512.5">R. Thompson</text>
</g>

<!-- Col12 -->
<g transform="translate(1164,0)">
<rect x="0" y="407.5" width="81" height="504.5" stroke-width="1.3"/><line x1="0" y1="408" x2="81" y2="408" stroke-width="2"/><line x1="0" y1="911.5" x2="81" y2="911.5" stroke-width="1.8"/>
<line x1="0" y1="459.8" x2="81" y2="459.8" stroke-width="1.1"/>
<line x1="0" y1="480" x2="81" y2="480" stroke-width="1.3"/><line x1="0" y1="482.5" x2="81" y2="482.5" stroke-width=".9"/>
<line x1="0" y1="526.5" x2="81" y2="526.5" stroke-width="1"/>
<line x1="0" y1="591" x2="81" y2="591" stroke-width="1.3"/><line x1="0" y1="593.5" x2="81" y2="593.5" stroke-width=".9"/>
<line x1="0" y1="634.5" x2="81" y2="634.5" stroke-width="1"/>
<line x1="0" y1="696.5" x2="81" y2="696.5" stroke-width="1.3"/><line x1="0" y1="699" x2="81" y2="699" stroke-width=".9"/>
<line x1="0" y1="742" x2="81" y2="742" stroke-width="1"/>
<line x1="0" y1="803.5" x2="81" y2="803.5" stroke-width="1.3"/><line x1="0" y1="806" x2="81" y2="806" stroke-width=".9"/>
<text class="n l" x="0" y="403">224</text><text class="n r" x="81" y="403">2396,7</text>
<text class="t" x="40.5" y="422">COOLING SYSTEM</text><text class="t" x="40.5" y="430">ANALYSIS</text><text class="t" x="40.5" y="438">SUPERVISOR</text><text class="t" x="40.5" y="446">L.W. Reithmaier</text>
<text class="t" x="40.5" y="466">SECRETARY</text><text class="t" x="40.5" y="474">M. Griffith</text>
<text class="t" x="40.5" y="492.5">EQUIPMENT</text><text class="t" x="40.5" y="500.5">COOLING</text><text class="t" x="40.5" y="508.5">LEAD ENGINEER</text><text class="t" x="40.5" y="516.5">J.W. Percy</text>
<text class="t" x="40.5" y="543">W.F. Dyer</text><text class="t" x="40.5" y="551">D.D. Gromberg</text><text class="t" x="40.5" y="559">B.S. Huffman</text><text class="t" x="40.5" y="567">J.L. Schaefer</text><text class="t" x="40.5" y="575">B.G. Schelden</text>
<text class="t" x="40.5" y="602">COOLANT</text><text class="t" x="40.5" y="610">LOOP</text><text class="t" x="40.5" y="618">LEAD ENGINEER</text><text class="t" x="40.5" y="626">I.D. Levine</text>
<text class="t" x="40.5" y="642">M.E. McIntosh</text>
<text class="t" x="40.5" y="714">BOILERPLATE</text><text class="t" x="40.5" y="722">SYSTEMS</text><text class="t" x="40.5" y="730">LEAD ENGINEER</text>
<text class="t" x="40.5" y="750">Y.U. Lantto</text>
</g>

<!-- Col13 -->
<g transform="translate(1260.5,0)">
<rect x="0" y="407.5" width="79" height="504.5" stroke-width="1.3"/><line x1="0" y1="408" x2="79" y2="408" stroke-width="2"/><line x1="0" y1="911.5" x2="79" y2="911.5" stroke-width="1.8"/>
<line x1="0" y1="459.8" x2="79" y2="459.8" stroke-width="1.1"/>
<line x1="0" y1="480" x2="79" y2="480" stroke-width="1.3"/><line x1="0" y1="482.5" x2="79" y2="482.5" stroke-width=".9"/>
<line x1="0" y1="526.5" x2="79" y2="526.5" stroke-width="1"/>
<line x1="0" y1="591" x2="79" y2="591" stroke-width="1.3"/><line x1="0" y1="593.5" x2="79" y2="593.5" stroke-width=".9"/>
<line x1="0" y1="634.5" x2="79" y2="634.5" stroke-width="1"/>
<line x1="0" y1="696.5" x2="79" y2="696.5" stroke-width="1.3"/><line x1="0" y1="699" x2="79" y2="699" stroke-width=".9"/>
<line x1="0" y1="742" x2="79" y2="742" stroke-width="1"/>
<line x1="0" y1="803.5" x2="79" y2="803.5" stroke-width="1.3"/><line x1="0" y1="806" x2="79" y2="806" stroke-width=".9"/>
<line x1="0" y1="847.5" x2="79" y2="847.5" stroke-width="1"/>
<text class="n l" x="0" y="403">224</text><text class="n r" x="79" y="403">2396,7</text>
<text class="t" x="39.5" y="422">ATMOSPHERIC</text><text class="t" x="39.5" y="430">CONTROL ANALYSIS</text><text class="t" x="39.5" y="438">SUPERVISOR</text><text class="t" x="39.5" y="446">O.T. Stoll (acting)</text>
<text class="t" x="39.5" y="470">SECRETARY</text>
<text class="t" x="39.5" y="500">CONTAMINANTS</text><text class="t" x="39.5" y="508">MANAGEMENT</text><text class="t" x="39.5" y="516">LEAD ENGINEER</text>
<text class="t" x="39.5" y="533">W.A. Solitario</text>
<text class="t" x="39.5" y="604.5">PROCESSING</text><text class="t" x="39.5" y="612.5">SYSTEMS ANALYSIS</text><text class="t" x="39.5" y="620.5">LEAD ENGINEER</text>
<text class="t" x="39.5" y="641.5">R.J. Haky</text><text class="t" x="39.5" y="649.5">C.W. Lam</text><text class="t" x="39.5" y="657.5">G.M. Weisberg</text>
<text class="t" x="39.5" y="712">G.S.E.</text><text class="t" x="39.5" y="720">ANALYSIS</text><text class="t" x="39.5" y="728">LEAD ENGINEER</text>
<text class="t" x="39.5" y="750">R.P. Arras</text>
<text class="t" x="39.5" y="812">WASTE &amp; WATER</text><text class="t" x="39.5" y="820">MANAGEMENT</text><text class="t" x="39.5" y="828">LEAD ENGINEER</text>
<text class="t" x="39.5" y="854">B.L. Mann</text>
</g>

<!-- Col14 -->
<g transform="translate(1354,0)">
<rect x="0" y="407.5" width="79" height="504.5" stroke-width="1.3"/><line x1="0" y1="408" x2="79" y2="408" stroke-width="2"/><line x1="0" y1="911.5" x2="79" y2="911.5" stroke-width="1.8"/>
<line x1="0" y1="459.8" x2="79" y2="459.8" stroke-width="1.1"/>
<line x1="0" y1="480" x2="79" y2="480" stroke-width="1.3"/><line x1="0" y1="482.5" x2="79" y2="482.5" stroke-width=".9"/>
<line x1="0" y1="526.5" x2="79" y2="526.5" stroke-width="1"/>
<line x1="0" y1="591" x2="79" y2="591" stroke-width="1.3"/><line x1="0" y1="593.5" x2="79" y2="593.5" stroke-width=".9"/>
<line x1="0" y1="634.5" x2="79" y2="634.5" stroke-width="1"/>
<line x1="0" y1="696.5" x2="79" y2="696.5" stroke-width="1.3"/><line x1="0" y1="699" x2="79" y2="699" stroke-width=".9"/>
<line x1="0" y1="742" x2="79" y2="742" stroke-width="1"/>
<line x1="0" y1="803.5" x2="79" y2="803.5" stroke-width="1.3"/><line x1="0" y1="806" x2="79" y2="806" stroke-width=".9"/>
<line x1="0" y1="847.5" x2="79" y2="847.5" stroke-width="1"/>
<text class="n l" x="0" y="403">224</text><text class="n r" x="79" y="403">2346,7</text>
<text class="t" x="39.5" y="422">POWER SYSTEMS</text><text class="t" x="39.5" y="430">ANALYSIS</text><text class="t" x="39.5" y="438">SUPERVISOR</text><text class="t" x="39.5" y="446">B. Barnett</text>
<text class="t" x="39.5" y="466">SECRETARY</text><text class="t" x="39.5" y="474">J. Vennard</text>
<text class="t" x="39.5" y="492.5">CRYOGENIC</text><text class="t" x="39.5" y="500.5">SYSTEMS</text><text class="t" x="39.5" y="508.5">LEAD ENGINEER</text><text class="t" x="39.5" y="516.5">G.D. Davis</text>
<text class="t" x="39.5" y="535">I. Shuldiner</text><text class="t" x="39.5" y="543">P. Varo</text><text class="t" x="39.5" y="551">R.A. Wise</text>
<text class="t" x="39.5" y="602">SPACE RADIATORS</text><text class="t" x="39.5" y="610">ANALYSIS</text><text class="t" x="39.5" y="618">LEAD ENGINEER</text><text class="t" x="39.5" y="626">D.C. Woody</text>
<text class="t" x="39.5" y="645">F.L. James</text><text class="t" x="39.5" y="653">D.B. Mackay</text><text class="t" x="39.5" y="661">E.A. Russell</text><text class="t" x="39.5" y="669">R.C. Schendel</text><text class="t" x="39.5" y="677">B.M. Shupack</text>
<text class="t" x="39.5" y="708.5">FUEL CELL</text><text class="t" x="39.5" y="716.5">ANALYSIS</text><text class="t" x="39.5" y="724.5">LEAD ENGINEER</text><text class="t" x="39.5" y="732.5">J.V. Dutzi</text>
<text class="t" x="39.5" y="749">F.D. Frey</text><text class="t" x="39.5" y="757">A.J. Gorman</text><text class="t" x="39.5" y="765">G.A. Johnson</text>
<text class="t" x="39.5" y="818">POWER SYSTEM</text><text class="t" x="39.5" y="826">TEST SUPPORT</text><text class="t" x="39.5" y="834">LEAD ENGINEER</text>
<text class="t" x="39.5" y="853.5">A.L. Tonelli</text>
</g>

<!-- Col15 -->
<g transform="translate(1448,0)">
<rect x="0" y="407.5" width="81" height="502.5" stroke-width="1.3"/><line x1="0" y1="408" x2="81" y2="408" stroke-width="2"/><line x1="0" y1="909.5" x2="81" y2="909.5" stroke-width="1.8"/>
<line x1="0" y1="459.8" x2="81" y2="459.8" stroke-width="1.1"/>
<line x1="0" y1="480" x2="81" y2="480" stroke-width="1.3"/><line x1="0" y1="482.5" x2="81" y2="482.5" stroke-width=".9"/>
<line x1="0" y1="526.5" x2="81" y2="526.5" stroke-width="1"/>
<line x1="0" y1="591" x2="81" y2="591" stroke-width="1.3"/><line x1="0" y1="593.5" x2="81" y2="593.5" stroke-width=".9"/>
<text class="n l" x="0" y="403">224</text><text class="n r" x="81" y="403">3207,8</text>
<text class="t" x="40.5" y="419">NUCLEAR</text><text class="t" x="40.5" y="427.5">PROTECTION</text><text class="t" x="40.5" y="436">SUPERVISOR</text>
<text class="t" x="40.5" y="465">SECRETARY</text><text class="t" x="40.5" y="473">B. Maikson</text>
<text class="t" x="40.5" y="500.5">LEAD ENGINEER</text><text class="t" x="40.5" y="508.5">L.H. Clark</text>
<text class="t" x="40.5" y="530">B. Feltquate</text><text class="t" x="40.5" y="537">J.D. Fletcher</text><text class="t" x="40.5" y="544">S.N. Honickman</text><text class="t" x="40.5" y="551">L.W. McCleary</text><text class="t" x="40.5" y="558">K.R. Pinckney</text><text class="t" x="40.5" y="565">F. Raymes</text><text class="t" x="40.5" y="572">G.C. Savage</text><text class="t" x="40.5" y="579">A. Shlanta</text><text class="t" x="40.5" y="586">A.K. Stazer</text>
</g>

<!-- signature / approval -->
<text x="1345" y="944" style="font-family:'Liberation Serif',serif;font-style:italic;font-size:17px;transform:scaleX(.9);">M. R. Kinsler</text>
<text class="n l" x="1359" y="958" style="font-weight:bold;">APPROVED BY:</text>
<line x1="1395" y1="960" x2="1452" y2="960" stroke-width=".7"/>
<text class="n l" x="1454" y="958" style="font-weight:bold;">DATE: JANUARY 7, 1963</text>
</svg>
</body></html>
